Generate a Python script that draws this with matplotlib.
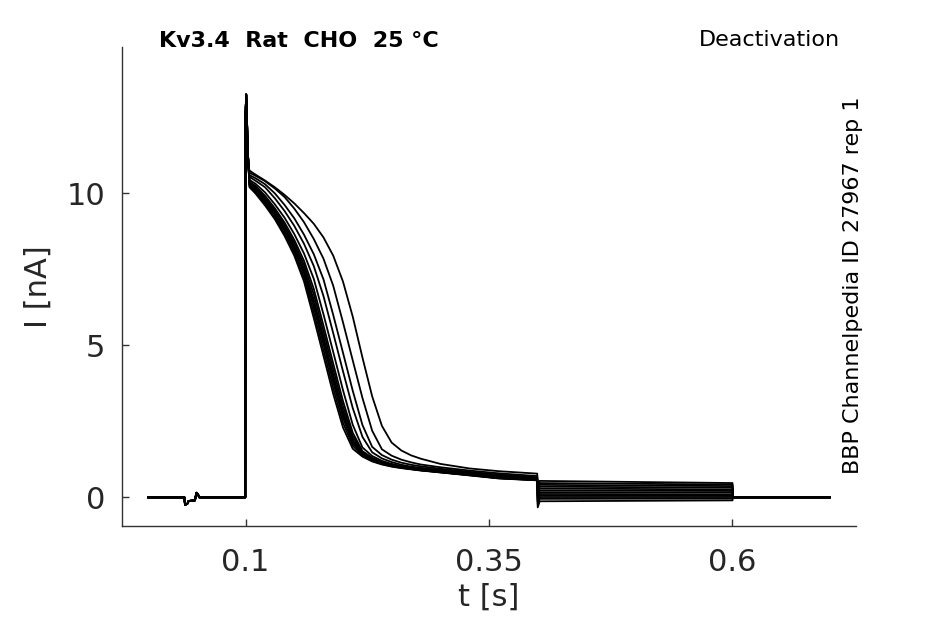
import numpy as np
import matplotlib.pyplot as plt

# holding + small artefact, same for every sweep
t_hold = [0.0, 0.0372, 0.0378, 0.0405, 0.0415, 0.048, 0.0495, 0.051, 0.0525, 0.0997]
i_hold = [0.0, 0.0, -0.25, -0.2, -0.12, -0.1, 0.15, 0.1, 0.0, 0.0]

# capacitive spike at the start of the prepulse
t_spike = [0.1, 0.1006, 0.1012, 0.102, 0.103]
i_spike = [12.6, 13.25, 12.8, 11.6, 10.9]

# prepulse current of every sweep (nA), read on this time grid
t_pre = [0.104, 0.11, 0.12, 0.13, 0.14, 0.15, 0.16, 0.17, 0.18, 0.19, 0.20, 0.21,
         0.22, 0.23, 0.24, 0.25, 0.26, 0.27, 0.28, 0.30, 0.33, 0.36, 0.3995]
sweeps = [
    [10.20, 10.00, 9.60, 9.15, 8.60, 7.95, 7.10, 5.90, 4.65, 3.40, 2.30, 1.60, 1.34, 1.18, 1.08, 1.01, 0.96, 0.92, 0.88, 0.82, 0.72, 0.62, 0.56],
    [10.24, 10.05, 9.66, 9.22, 8.68, 8.05, 7.23, 6.08, 4.84, 3.59, 2.46, 1.70, 1.37, 1.20, 1.10, 1.02, 0.97, 0.93, 0.89, 0.82, 0.73, 0.63, 0.56],
    [10.28, 10.10, 9.72, 9.29, 8.77, 8.15, 7.36, 6.26, 5.03, 3.78, 2.62, 1.78, 1.41, 1.23, 1.11, 1.03, 0.98, 0.93, 0.89, 0.83, 0.73, 0.63, 0.57],
    [10.30, 10.13, 9.78, 9.33, 8.82, 8.21, 7.44, 6.38, 5.15, 3.90, 2.73, 1.85, 1.43, 1.24, 1.12, 1.04, 0.98, 0.94, 0.90, 0.83, 0.74, 0.64, 0.57],
    [10.32, 10.17, 9.80, 9.38, 8.88, 8.28, 7.53, 6.50, 5.28, 4.03, 2.85, 1.92, 1.45, 1.26, 1.13, 1.05, 0.99, 0.94, 0.90, 0.84, 0.74, 0.65, 0.58],
    [10.35, 10.21, 9.86, 9.44, 8.96, 8.37, 7.65, 6.68, 5.46, 4.21, 3.00, 2.02, 1.48, 1.28, 1.15, 1.06, 0.99, 0.95, 0.91, 0.85, 0.75, 0.66, 0.58],
    [10.38, 10.25, 9.92, 9.51, 9.04, 8.47, 7.78, 6.86, 5.65, 4.40, 3.17, 2.13, 1.52, 1.30, 1.16, 1.07, 1.00, 0.96, 0.92, 0.86, 0.76, 0.67, 0.59],
    [10.44, 10.32, 10.03, 9.64, 9.20, 8.66, 8.02, 7.19, 6.02, 4.78, 3.53, 2.39, 1.64, 1.36, 1.20, 1.10, 1.03, 0.98, 0.94, 0.88, 0.79, 0.69, 0.61],
    [10.54, 10.42, 10.20, 9.84, 9.42, 8.93, 8.34, 7.61, 6.62, 5.40, 4.15, 2.94, 1.99, 1.48, 1.28, 1.16, 1.07, 1.01, 0.97, 0.90, 0.81, 0.71, 0.63],
    [10.60, 10.50, 10.30, 10.00, 9.62, 9.18, 8.64, 8.00, 7.17, 6.00, 4.76, 3.51, 2.38, 1.66, 1.39, 1.24, 1.14, 1.07, 1.02, 0.94, 0.84, 0.75, 0.66],
    [10.68, 10.58, 10.40, 10.16, 9.88, 9.50, 9.05, 8.50, 7.85, 6.96, 5.76, 4.51, 3.27, 2.19, 1.58, 1.37, 1.24, 1.15, 1.08, 0.99, 0.88, 0.79, 0.70],
    [10.75, 10.62, 10.42, 10.20, 9.95, 9.67, 9.35, 9.00, 8.55, 7.95, 7.10, 5.95, 4.60, 3.32, 2.35, 1.80, 1.54, 1.38, 1.27, 1.10, 0.95, 0.86, 0.78],
]

# tail currents after the step at 0.4 s
t_tail = [0.4, 0.402, 0.6, 0.6005, 0.7]
tail_dip = [0.35, 0.30, 0.24, 0.18, 0.12, 0.06, 0.00, -0.06, -0.12, -0.17, -0.24, -0.33]
tail_start = [0.54, 0.47, 0.41, 0.35, 0.29, 0.23, 0.17, 0.11, 0.06, 0.01, -0.05, -0.13]
tail_end = [0.47, 0.42, 0.37, 0.32, 0.26, 0.21, 0.16, 0.10, 0.05, 0.01, -0.04, -0.10]

fig = plt.figure(figsize=(9.45, 6.24), dpi=100)
ax = fig.add_axes([0.129, 0.157, 0.777, 0.768])

for k in range(len(sweeps)):
    t = t_hold + t_spike + t_pre + t_tail
    i = i_hold + i_spike + sweeps[k] + [tail_dip[k], tail_start[k], tail_end[k], 0.0, 0.0]
    ax.plot(t, i, color='black', lw=1.3)

ax.set_xlim(-0.027, 0.727)
ax.set_ylim(-0.944, 14.82)
ax.set_xticks([0.1, 0.35, 0.6])
ax.set_xticklabels(['0.1', '0.35', '0.6'])
ax.set_yticks([0, 5, 10])

for side in ['top', 'right']:
    ax.spines[side].set_visible(False)
for side in ['left', 'bottom']:
    ax.spines[side].set_color('#333333')
    ax.spines[side].set_linewidth(1.0)

ax.tick_params(axis='both', direction='in', length=5, width=1, color='#333333',
               labelsize=22, labelcolor='#262626')
ax.tick_params(axis='x', pad=16)
ax.tick_params(axis='y', pad=12)

ax.set_xlabel('t [s]', fontsize=22, color='#262626', labelpad=4)
ax.set_ylabel('I [nA]', fontsize=22, color='#262626', labelpad=10)

fig.text(159 / 945, 1 - 47 / 624, 'Kv3.4  Rat  CHO  25 °C', fontsize=16,
         weight='bold', va='baseline', ha='left')
fig.text(840 / 945, 1 - 46 / 624, 'Deactivation', fontsize=16,
         va='baseline', ha='right')
fig.text(853 / 945, 1 - 285.5 / 624, 'BBP Channelpedia ID 27967 rep 1', fontsize=16,
         rotation=90, va='center', ha='center')

fig.savefig('out.png', dpi=100)
